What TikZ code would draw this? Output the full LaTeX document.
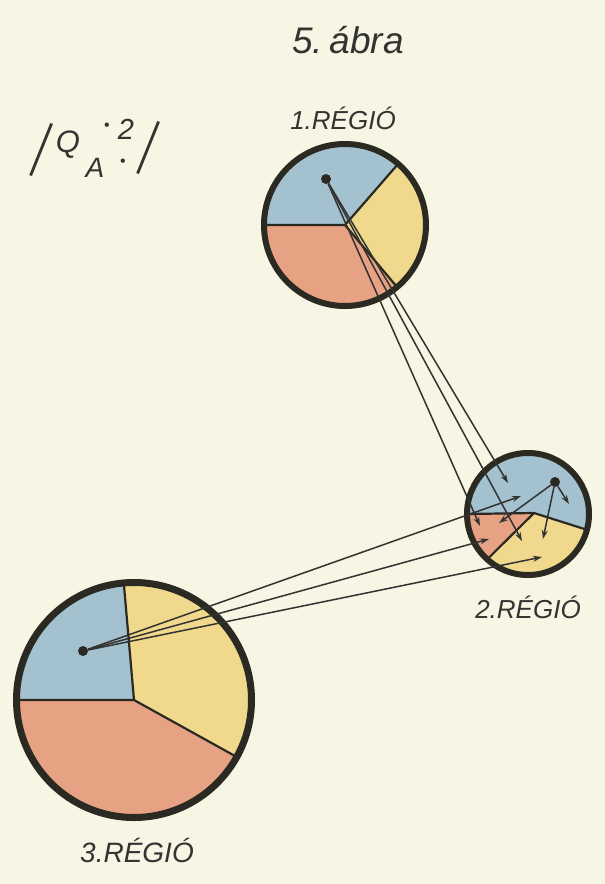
\documentclass[tikz,border=0pt]{standalone}
\usepackage{fontspec}
\setmainfont{Liberation Sans}
\usepackage{graphicx}
\usepackage{tikz}
\usetikzlibrary{arrows.meta,positioning}
\definecolor{papercol}{HTML}{F7F5E3}
\definecolor{bluecol}{HTML}{A3C1CE}
\definecolor{yellcol}{HTML}{F0D98C}
\definecolor{redcol}{HTML}{E7A283}
\definecolor{inkcol}{HTML}{2B2A22}
\definecolor{textcol}{HTML}{333331}

\begin{document}
\begin{tikzpicture}[x=1pt, y=-1pt,
  ring/.style={circle, draw=inkcol, line width=6pt, inner sep=0pt},
  sep/.style={draw=inkcol, line width=2.2pt},
  src/.style={circle, fill=inkcol, inner sep=0pt, minimum size=10pt},
  flow/.style={draw=textcol, line width=1.5pt, -{Stealth[length=9pt,width=6pt]}},
  reg/.style={font=\fontsize{26}{26}\selectfont\itshape, text=textcol, inner sep=0pt},
  frm/.style={font=\fontsize{31}{31}\selectfont\itshape, text=textcol, inner sep=0pt}]

  \useasboundingbox[fill=papercol] (0,0) rectangle (605,884);

  % 1. region
  \coordinate (c1) at (345,225);
  \fill[bluecol] (c1) -- ++(-49:82) arc (-49:-180:82) -- cycle;
  \fill[yellcol] (c1) -- ++(-49:82) arc (-49:50:82) -- cycle;
  \fill[redcol] (c1) -- ++(50:82) arc (50:180:82) -- cycle;
  \draw[sep] (c1) ++(180:81) -- (c1) -- ++(-49:81) (c1) -- ++(50:81);
  \node[ring, minimum size=162pt] (r1) at (c1) {};

  % 2. region
  \coordinate (c2) at (528,514);
  \coordinate (v2) at (534,513);
  \fill[bluecol] (v2) -- ([shift={(180:62)}]c2) arc (180:375:62) -- cycle;
  \fill[yellcol] (v2) -- ([shift={(15:62)}]c2) arc (15:132:62) -- cycle;
  \fill[redcol] (v2) -- ([shift={(132:62)}]c2) arc (132:180:62) -- cycle;
  \draw[sep] ([shift={(180:61)}]c2) -- (v2) -- ([shift={(15:61)}]c2) (v2) -- ([shift={(132:61)}]c2);
  \node[ring, minimum size=122pt] (r2) at (c2) {};

  % 3. region
  \coordinate (c3) at (134,700);
  \fill[bluecol] (c3) -- ++(180:119) arc (180:265:119) -- cycle;
  \fill[yellcol] (c3) -- ++(265:119) arc (265:389:119) -- cycle;
  \fill[redcol] (c3) -- ++(29:119) arc (29:180:119) -- cycle;
  \draw[sep] (c3) ++(180:118) -- (c3) -- ++(265:118) (c3) -- ++(29:118);
  \node[ring, line width=7pt, minimum size=235pt] (r3) at (c3) {};

  \node[reg, above=12pt of r1, anchor=base, xshift=-2pt] (t1) {1.RÉGIÓ};
  \node[reg, below=40pt of r2, anchor=base] (t2) {2.RÉGIÓ};
  \node[reg, font=\fontsize{28}{28}\selectfont\itshape, below=41pt of r3, anchor=base, xshift=3pt] (t3) {3.RÉGIÓ};
  \node[reg, font=\fontsize{37}{37}\selectfont\itshape, anchor=base] (fig) at (348,53) {\spaceskip=3pt 5. ábra};

  \node[frm, font=\fontsize{60}{60}\selectfont, rotate=-22] (barl) at (42,150) {\scalebox{0.6}[1]{|}};
  \node[frm] (q) at (68,145) {Q};
  \node[frm, font=\fontsize{28}{28}\selectfont\itshape] (a) at (95,168) {A};
  \node[frm, font=\fontsize{29}{29}\selectfont\itshape] (two) at (126,129) {2};
  \node[frm, font=\fontsize{16}{16}\selectfont] (dt1) at (107,127) {\textbullet};
  \node[frm, font=\fontsize{16}{16}\selectfont] (dt2) at (123,163) {\textbullet};
  \node[frm, font=\fontsize{60}{60}\selectfont, rotate=-22] (barr) at (149,148) {\scalebox{0.6}[1]{|}};

  \node[src] (d1) at (326,179) {};
  \node[src] (d2) at (555,482) {};
  \node[src] (d3) at (83,651) {};

  \coordinate (e1a) at (480,526);
  \coordinate (e1b) at (522,541);
  \coordinate (e1c) at (508,483);
  \coordinate (e2a) at (569,504);
  \coordinate (e2b) at (543,539);
  \coordinate (e2c) at (499,523);
  \coordinate (e3a) at (521,496);
  \coordinate (e3b) at (489,539);
  \coordinate (e3c) at (542,557);

  \foreach \e in {e1a,e1b,e1c} \draw[flow] (d1) -- (\e);
  \foreach \e in {e2a,e2b,e2c} \draw[flow] (d2) -- (\e);
  \foreach \e in {e3a,e3b,e3c} \draw[flow] (d3) -- (\e);
\end{tikzpicture}
\end{document}
